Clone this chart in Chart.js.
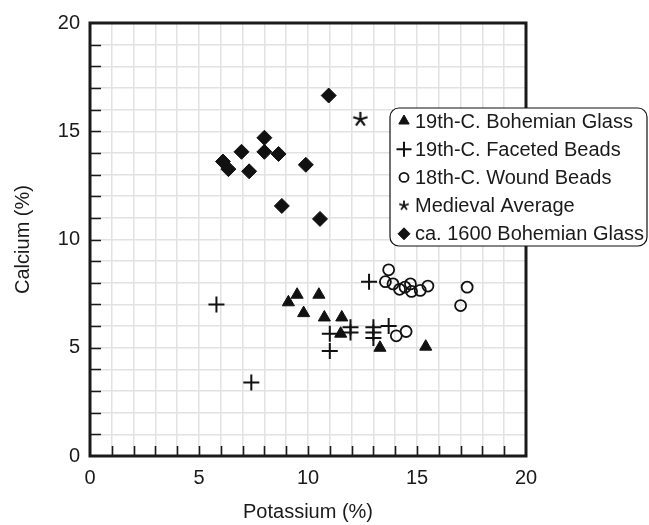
<!DOCTYPE html>
<html lang="en">
<head>
  <meta charset="UTF-8">
  <title>Potassium vs Calcium</title>
  <script src="https://cdn.jsdelivr.net/npm/chart.js"></script>
  <style>
    body {
      margin: 0;
      padding: 0;
      background: #fff;
      overflow: hidden;
    }
    #chart { display: block; }
  </style>
</head>
<body>
  <canvas id="chart" width="649" height="525"></canvas>

  <script>
    // series names, in legend order
    const seriesNames = [
      '19th-C. Bohemian Glass',
      '19th-C. Faceted Beads',
      '18th-C. Wound Beads',
      'Medieval Average',
      'ca. 1600 Bohemian Glass'
    ];

    // potassium (x) / calcium (y), %
    const bohemian19K = [9.1, 9.5, 10.5, 9.8, 10.75, 11.55, 11.5, 13.3, 15.4];
    const bohemian19Ca = [7.1, 7.45, 7.45, 6.6, 6.4, 6.4, 5.65, 5.0, 5.05];

    const faceted19K = [5.8, 7.4, 11.0, 11.0, 11.95, 11.95, 12.8, 13.0, 13.0, 13.0, 13.7];
    const faceted19Ca = [7.0, 3.4, 5.65, 4.85, 5.95, 5.7, 8.05, 5.95, 5.7, 5.45, 6.0];

    const wound18K = [13.7, 13.55, 13.9, 14.2, 14.45, 14.7, 14.75, 15.15, 15.5, 17.3, 17.0, 14.05, 14.5];
    const wound18Ca = [8.6, 8.05, 7.95, 7.7, 7.8, 7.95, 7.6, 7.65, 7.85, 7.8, 6.95, 5.55, 5.75];

    const medievalK = [12.4];
    const medievalCa = [15.55];

    const bohemian1600K = [10.95, 8.0, 6.95, 8.0, 8.65, 6.1, 6.35, 7.3, 9.9, 8.8, 10.55];
    const bohemian1600Ca = [16.65, 14.7, 14.05, 14.05, 13.95, 13.6, 13.25, 13.15, 13.45, 11.55, 10.95];

    const axisMin = 0;
    const axisMax = 20;
    const labelledTicks = [0, 5, 10, 15, 20];

    const FONT = '"Liberation Sans", Arial, sans-serif';
    const FONT_SIZE = 20;

    function pairs(xs, ys) {
      return xs.map((x, i) => ({ x: x, y: ys[i] }));
    }

    // small asterisk used for the medieval average
    function asterisk(size, lw) {
      const c = document.createElement('canvas');
      c.width = size;
      c.height = size;
      const g = c.getContext('2d');
      const m = size / 2;
      g.strokeStyle = '#111';
      g.lineWidth = lw;
      g.beginPath();
      for (let k = 0; k < 5; k++) {
        const a = -Math.PI / 2 + k * 2 * Math.PI / 5;
        g.moveTo(m, m);
        g.lineTo(m + Math.cos(a) * (m - 1), m + Math.sin(a) * (m - 1));
      }
      g.stroke();
      return c;
    }
    const starBig = asterisk(17, 2.2);
    const starSmall = asterisk(12, 1.8);

    const styles = [
      { pointStyle: 'triangle', radius: 7, bg: '#111', bw: 1, legendRadius: 6 },
      { pointStyle: 'cross', radius: 8, bg: '#111', bw: 2, legendRadius: 7.5 },
      { pointStyle: 'circle', radius: 5.5, bg: 'rgba(0,0,0,0)', bw: 1.8, legendRadius: 4.5 },
      { pointStyle: starBig, radius: 8, bg: '#111', bw: 0, legendStyle: starSmall, legendRadius: 6 },
      { pointStyle: 'rectRot', radius: 7.5, bg: '#111', bw: 1, legendRadius: 6 }
    ];

    const seriesData = [
      pairs(bohemian19K, bohemian19Ca),
      pairs(faceted19K, faceted19Ca),
      pairs(wound18K, wound18Ca),
      pairs(medievalK, medievalCa),
      pairs(bohemian1600K, bohemian1600Ca)
    ];

    const datasets = seriesNames.map((name, i) => ({
      label: name,
      data: seriesData[i],
      pointStyle: styles[i].pointStyle,
      pointRadius: styles[i].radius,
      pointBackgroundColor: styles[i].bg,
      pointBorderColor: '#111',
      pointBorderWidth: styles[i].bw,
      showLine: false
    }));

    // frame, inward ticks and the boxed legend
    const framePlugin = {
      id: 'frame',
      afterDraw(chart) {
        const ctx = chart.ctx;
        const a = chart.chartArea;
        const xs = chart.scales.x;
        const ys = chart.scales.y;
        ctx.save();

        ctx.strokeStyle = '#1a1a1a';
        ctx.lineWidth = 1.6;
        ctx.beginPath();
        for (let v = axisMin + 1; v < axisMax; v++) {
          const px = Math.round(xs.getPixelForValue(v)) + 0.5;
          ctx.moveTo(px, a.bottom);
          ctx.lineTo(px, a.bottom - 10);
          const py = Math.round(ys.getPixelForValue(v)) + 0.5;
          ctx.moveTo(a.left, py);
          ctx.lineTo(a.left + 11, py);
        }
        ctx.stroke();

        ctx.lineWidth = 3;
        ctx.strokeRect(a.left, a.top, a.right - a.left, a.bottom - a.top);

        // legend box
        const bx = 390, by = 108, bw = 257, bh = 138, r = 9;
        ctx.beginPath();
        ctx.moveTo(bx + r, by);
        ctx.arcTo(bx + bw, by, bx + bw, by + bh, r);
        ctx.arcTo(bx + bw, by + bh, bx, by + bh, r);
        ctx.arcTo(bx, by + bh, bx, by, r);
        ctx.arcTo(bx, by, bx + bw, by, r);
        ctx.closePath();
        ctx.fillStyle = '#fff';
        ctx.fill();
        ctx.lineWidth = 1.2;
        ctx.strokeStyle = '#111';
        ctx.stroke();

        ctx.font = FONT_SIZE + 'px ' + FONT;
        ctx.textBaseline = 'middle';
        ctx.textAlign = 'left';
        seriesNames.forEach((name, i) => {
          const cy = 121 + i * 28.2;
          const st = styles[i];
          ctx.fillStyle = st.bg;
          ctx.strokeStyle = '#111';
          ctx.lineWidth = st.bw;
          Chart.helpers.drawPoint(ctx, {
            pointStyle: st.legendStyle || st.pointStyle,
            radius: st.legendRadius,
            rotation: 0,
            borderWidth: st.bw
          }, 404, cy);
          ctx.fillStyle = '#1a1a1a';
          ctx.fillText(name, 415, cy + 1);
        });

        ctx.restore();
      }
    };

    function tickLabel(value) {
      return labelledTicks.includes(value) ? String(value) : '';
    }

    new Chart(document.getElementById('chart'), {
      type: 'scatter',
      data: { datasets: datasets },
      options: {
        responsive: false,
        animation: false,
        devicePixelRatio: 1,
        layout: { padding: { left: 0, right: 123, top: 23, bottom: 0 } },
        plugins: {
          legend: { display: false },
          tooltip: { enabled: false }
        },
        scales: {
          x: {
            type: 'linear',
            min: axisMin,
            max: axisMax,
            afterFit(s) { s.height = 69; },
            border: { display: false },
            grid: { color: '#e2e2e2', lineWidth: 1.5, drawTicks: false, tickLength: 0 },
            ticks: {
              stepSize: 1,
              autoSkip: false,
              maxRotation: 0,
              padding: 10,
              color: '#1a1a1a',
              font: { family: FONT, size: FONT_SIZE },
              callback: tickLabel
            },
            title: {
              display: true,
              text: 'Potassium (%)',
              color: '#1a1a1a',
              font: { family: FONT, size: FONT_SIZE },
              padding: { top: 0, bottom: 1 }
            }
          },
          y: {
            type: 'linear',
            min: axisMin,
            max: axisMax,
            afterFit(s) { s.width = 90; },
            border: { display: false },
            grid: { color: '#e2e2e2', lineWidth: 1.5, drawTicks: false, tickLength: 0 },
            ticks: {
              stepSize: 1,
              autoSkip: false,
              padding: 10,
              color: '#1a1a1a',
              font: { family: FONT, size: FONT_SIZE },
              callback: tickLabel
            },
            title: {
              display: true,
              text: 'Calcium (%)',
              color: '#1a1a1a',
              font: { family: FONT, size: FONT_SIZE },
              padding: { top: 11, bottom: 0 }
            }
          }
        }
      },
      plugins: [framePlugin]
    });
  </script>
</body>
</html>
